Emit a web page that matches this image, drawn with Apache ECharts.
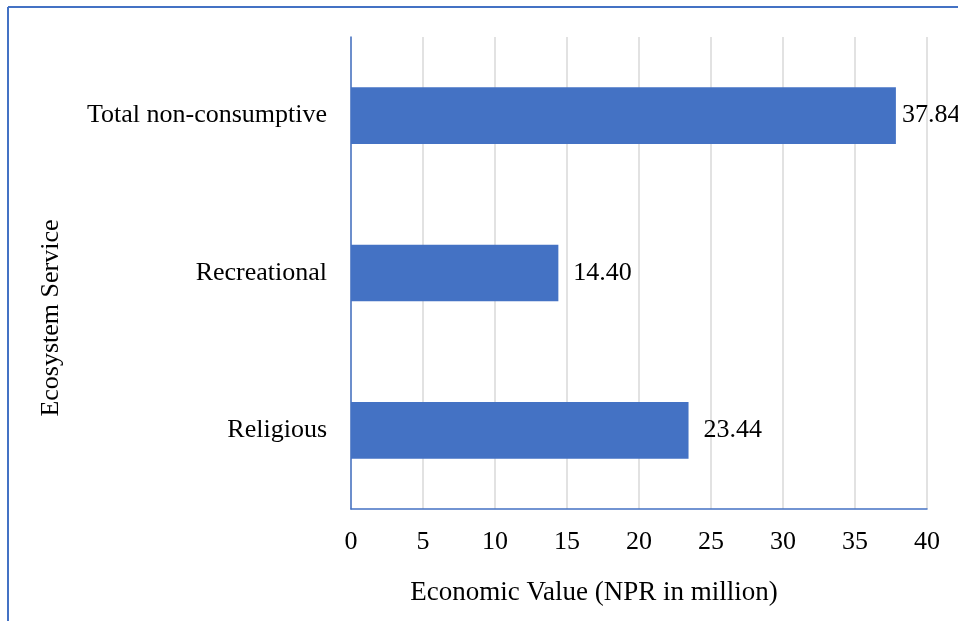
<!DOCTYPE html>
<html><head><meta charset="utf-8">
<script src="https://cdn.jsdelivr.net/npm/echarts@6/dist/echarts.min.js"></script>
<style>html,body{margin:0;padding:0;background:#fff}#c{width:958px;height:621px}</style>
</head><body><div id="c"></div>
<script>
const categories = ['Religious', 'Recreational', 'Total non-consumptive'];
const values = [23.44, 14.40, 37.84];
const xTicks = [0, 5, 10, 15, 20, 25, 30, 35, 40];
const xTitle = 'Economic Value (NPR in million)';
const yTitle = 'Ecosystem Service';

const chart = echarts.init(document.getElementById('c'), null, {renderer: 'canvas'});
const font = 'Liberation Serif, Times New Roman, serif';
const blue = '#4472C4';
chart.setOption({
  animation: false,
  grid: {left: 351, right: 31, top: 37, bottom: 112, containLabel: false},
  xAxis: {
    type: 'value', min: xTicks[0], max: xTicks[xTicks.length-1], interval: 5,
    axisLine: {show: true, lineStyle: {color: blue, width: 1.5}},
    axisTick: {show: false},
    axisLabel: {fontFamily: font, fontSize: 26, color: '#000', margin: 20},
    splitLine: {show: true, lineStyle: {color: '#D9D9D9', width: 1.5}}
  },
  yAxis: {
    type: 'category', data: categories,
    axisLine: {show: true, lineStyle: {color: blue, width: 1.5}},
    axisTick: {show: false},
    axisLabel: {fontFamily: font, fontSize: 26, color: '#000', margin: 24}
  },
  series: [{
    type: 'bar', barWidth: '36%',
    itemStyle: {color: blue},
    data: values.map((v, i) => ({value: v, label: {distance: v > 35 ? 6 : 15}})),
    label: {show: true, position: 'right', fontFamily: font, fontSize: 26, color: '#000',
      formatter: p => p.value.toFixed(2)}
  }],
  graphic: [
    {type: 'line', shape: {x1: 8, y1: 7, x2: 958, y2: 7}, style: {stroke: blue, lineWidth: 2}},
    {type: 'line', shape: {x1: 8, y1: 7, x2: 8, y2: 621}, style: {stroke: blue, lineWidth: 2}},
    {type: 'text', x: 594, y: 593, style: {text: xTitle, font: '27px ' + font, fill: '#000', textAlign: 'center', textVerticalAlign: 'middle'}},
    {type: 'text', x: 51, y: 318, rotation: Math.PI / 2, style: {text: yTitle, font: '26px ' + font, fill: '#000', textAlign: 'center', textVerticalAlign: 'middle'}}
  ]
});
</script></body></html>
